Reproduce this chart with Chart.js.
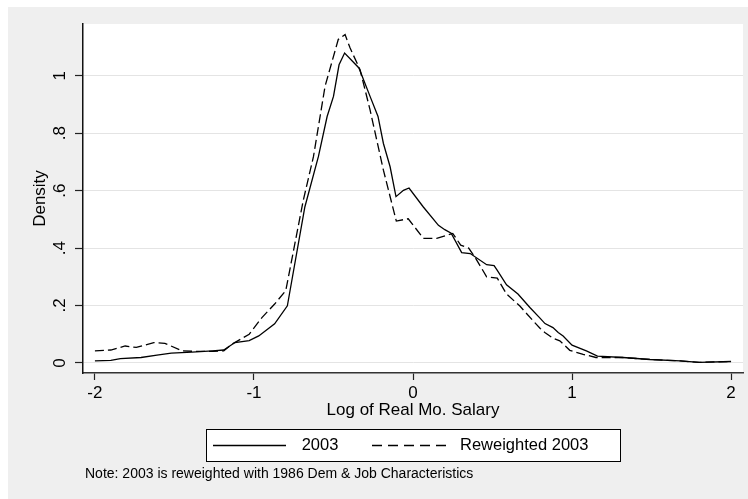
<!DOCTYPE html>
<html><head><meta charset="utf-8">
<script src="https://cdn.jsdelivr.net/npm/chart.js@4"></script>
<style>html,body{margin:0;padding:0;background:#fff}#wrap{width:748px;height:499px}</style>
</head><body><div id="wrap"><canvas id="c" width="748" height="499"></canvas></div>
<script>
// ---- data ----
const x2003 = [-2.0,-1.9,-1.84,-1.71,-1.61,-1.52,-1.39,-1.26,-1.19,-1.12,-1.03,-0.97,-0.87,-0.79,-0.68,-0.595,-0.54,-0.50,-0.465,-0.43,-0.34,-0.27,-0.22,-0.186,-0.144,-0.107,-0.06,-0.025,0.065,0.16,0.20,0.24,0.306,0.36,0.463,0.51,0.53,0.588,0.66,0.735,0.80,0.83,0.88,0.913,0.944,1.0,1.09,1.16,1.32,1.49,1.68,1.8,2.0];
const y2003 = [0.007,0.009,0.015,0.019,0.027,0.034,0.038,0.042,0.045,0.071,0.078,0.094,0.136,0.199,0.543,0.718,0.858,0.928,1.038,1.079,1.027,0.928,0.858,0.764,0.683,0.579,0.601,0.609,0.543,0.479,0.464,0.452,0.384,0.381,0.342,0.339,0.322,0.272,0.240,0.193,0.155,0.137,0.123,0.106,0.094,0.062,0.042,0.024,0.019,0.012,0.007,0.002,0.005];
const xRew = [-2.0,-1.9,-1.81,-1.74,-1.63,-1.56,-1.45,-1.35,-1.26,-1.19,-1.14,-1.03,-0.95,-0.87,-0.80,-0.69,-0.626,-0.553,-0.47,-0.427,-0.396,-0.333,-0.27,-0.186,-0.105,-0.03,0.065,0.149,0.25,0.30,0.35,0.39,0.463,0.53,0.588,0.672,0.755,0.80,0.829,0.88,0.923,0.986,1.07,1.15,1.32,1.49,1.68,1.8,2.0];
const yRew = [0.042,0.045,0.059,0.054,0.071,0.068,0.042,0.040,0.040,0.042,0.065,0.100,0.158,0.205,0.252,0.566,0.718,0.963,1.126,1.143,1.097,1.021,0.881,0.671,0.494,0.502,0.434,0.434,0.451,0.410,0.400,0.368,0.300,0.295,0.240,0.198,0.147,0.120,0.106,0.086,0.077,0.044,0.030,0.019,0.019,0.012,0.007,0.002,0.005];
const xTicks = [-2,-1,0,1,2];
const yTicks = [0,0.2,0.4,0.6,0.8,1];
const seriesLabels = ['2003','Reweighted 2003'];
const xTitle = 'Log of Real Mo. Salary';
const yTitle = 'Density';
const noteText = 'Note: 2003 is reweighted with 1986 Dem & Job Characteristics';

const FONT = "'Liberation Sans', Arial, Helvetica, sans-serif";
const DASH = [9,4];
const LEGEND_DASH = [10,6];

const bgPlugin = {
  id: 'bg',
  beforeDraw(chart) {
    const {ctx, chartArea: a} = chart;
    ctx.save();
    ctx.fillStyle = '#ffffff';
    ctx.fillRect(0, 0, chart.width, chart.height);
    ctx.fillStyle = '#efefef';
    ctx.fillRect(8, 7, chart.width - 8, chart.height - 7);
    ctx.fillStyle = '#ffffff';
    ctx.fillRect(a.left, a.top, a.right - a.left, a.bottom - a.top);
    ctx.restore();
  },
  afterDraw(chart) {
    const {ctx} = chart;
    ctx.save();
    // legend box
    ctx.fillStyle = '#ffffff';
    ctx.fillRect(206, 429, 414, 32);
    ctx.strokeStyle = '#000';
    ctx.lineWidth = 1;
    ctx.strokeRect(206.5, 429.5, 414, 32);
    ctx.lineWidth = 1.3;
    ctx.beginPath(); ctx.moveTo(213, 445.5); ctx.lineTo(286, 445.5); ctx.stroke();
    ctx.setLineDash(LEGEND_DASH);
    ctx.beginPath(); ctx.moveTo(372, 445.5); ctx.lineTo(447, 445.5); ctx.stroke();
    ctx.setLineDash([]);
    ctx.fillStyle = '#000';
    ctx.font = '16.5px ' + FONT;
    ctx.textBaseline = 'middle';
    ctx.textAlign = 'center';
    ctx.fillText(seriesLabels[0], 320, 445);
    ctx.textAlign = 'left';
    ctx.fillText(seriesLabels[1], 460, 445);
    // note
    ctx.font = '14px ' + FONT;
    ctx.fillText(noteText, 85, 474);
    ctx.restore();
  }
};

const chart = new Chart(document.getElementById('c'), {
  type: 'line',
  data: {
    datasets: [
      { label: seriesLabels[0], data: x2003.map((x, i) => ({x, y: y2003[i]})),
        borderColor: '#000', borderWidth: 1.3, pointRadius: 0, tension: 0, fill: false },
      { label: seriesLabels[1], data: xRew.map((x, i) => ({x, y: yRew[i]})),
        borderColor: '#000', borderWidth: 1.3, borderDash: DASH, pointRadius: 0, tension: 0, fill: false }
    ]
  },
  options: {
    responsive: false,
    animation: false,
    devicePixelRatio: 1,
    layout: { padding: { top: 24, right: 5, left: 0, bottom: 0 } },
    plugins: { legend: { display: false }, tooltip: { enabled: false } },
    scales: {
      x: {
        type: 'linear', min: -2.075, max: 2.075,
        afterBuildTicks: s => { s.ticks = xTicks.map(v => ({value: v})); },
        afterFit: s => { s.height = 126; },
        ticks: { color: '#000', font: { family: FONT, size: 17 }, padding: 3, maxRotation: 0,
                 callback: v => String(v) },
        grid: { drawOnChartArea: false, drawTicks: true, tickLength: 7, tickColor: '#222', tickWidth: 1.2 },
        border: { color: '#333', width: 1.5 },
        title: { display: true, text: xTitle, color: '#000', font: { family: FONT, size: 17 },
                 padding: { top: 0, bottom: 78.8 } }
      },
      y: {
        type: 'linear', min: -0.035, max: 1.18,
        afterBuildTicks: s => { s.ticks = yTicks.map(v => ({value: v})); },
        afterFit: s => { s.width = 83; },
        ticks: { color: '#000', font: { family: FONT, size: 17 }, padding: 8,
                 minRotation: 90, maxRotation: 90, crossAlign: 'center',
                 callback: v => (v === 0 ? '0' : v === 1 ? '1' : String(v).replace(/^0/, '')) },
        grid: { color: '#e4e4e4', lineWidth: 1, drawTicks: true, tickLength: 8, tickColor: '#222', tickWidth: 1.2 },
        border: { color: '#111', width: 1.5 },
        title: { display: true, text: yTitle, color: '#000', font: { family: FONT, size: 17 },
                 padding: { top: 29.8, bottom: 0 } }
      }
    }
  },
  plugins: [bgPlugin]
});
</script>
</body></html>
